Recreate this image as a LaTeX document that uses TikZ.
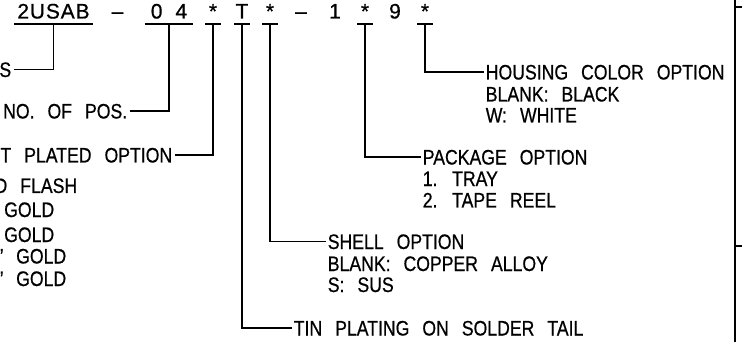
\documentclass[tikz,border=0pt]{standalone}
\usepackage{fontspec}
\setmainfont{Liberation Sans}[FakeStretch=0.84, FakeBold=0.6]
\newfontfamily\codefont{Liberation Sans}[LetterSpace=4, FakeBold=0.6]
\newcommand\lblfont{\fontsize{21}{25}\selectfont\spaceskip 13pt\relax}
\newcommand\pnfont{\codefont\fontsize{21}{25}\selectfont\spaceskip 13pt\relax}
\tikzset{
  code/.style={font=\pnfont, inner sep=0pt, text height=18pt, text depth=5pt, anchor=base},
  mark box/.style={code, minimum width=14pt},
  lbl/.style={inner sep=1.5pt, text height=15pt, text depth=0pt},
}
\begin{document}
\begin{tikzpicture}[x=1pt, y=-1pt, line width=1.6pt, font=\lblfont]
\useasboundingbox (0,0) rectangle (742,342);

% part number
\node[code, minimum width=77pt] (c2usab) at (53.5,18.5) {2USAB};
\node[code] (cdasha) at (117.5,18.5) {–};
\node[code, minimum width=47pt] (c04) at (169,18.5) {0 4};
\node[mark box] (cplat) at (213,18.5) {*};
\node[mark box] (ctin) at (242,18.5) {T};
\node[mark box] (cshell) at (270,18.5) {*};
\node[code] (cdashb) at (301,18.5) {–};
\node[code] (cone) at (335,18.5) {1};
\node[mark box] (cpack) at (365,18.5) {*};
\node[code] (cnine) at (395,18.5) {9};
\node[mark box] (chous) at (425,18.5) {*};

\foreach \n in {c2usab,c04,cplat,ctin,cshell,cpack,chous}
  \draw (\n.south west) -- (\n.south east);

% left labels (cut by the page edge)
\node[lbl, anchor=east] (lser) at (13.5,69.5) {S};
\node[lbl, anchor=east] (lpos) at (129.5,111) {NO. OF POS.};
\node[lbl, anchor=east] (lplat) at (174.5,155) {T PLATED OPTION};
\node[lbl, anchor=east] (lplatb) at (79.5,185.5) {D FLASH};
\node[lbl, anchor=east] (lplatc) at (56.5,209.5) {GOLD};
\node[lbl, anchor=east] (lplatd) at (56.5,234.5) {GOLD};
\node[lbl, anchor=east] (lplate) at (68.5,256) {” GOLD};
\node[lbl, anchor=east] (lplatf) at (68.5,278.5) {” GOLD};

% right labels
\node[lbl, anchor=west] (lhous) at (483.5,72) {HOUSING COLOR OPTION};
\node[lbl, anchor=west] (lhousb) at (483.5,94) {BLANK: BLACK};
\node[lbl, anchor=west] (lhousc) at (483.5,115) {W: WHITE};

\node[lbl, anchor=west] (lpack) at (420.5,157) {PACKAGE OPTION};
\node[lbl, anchor=west] (lpackb) at (420.5,178.5) {1. TRAY};
\node[lbl, anchor=west] (lpackc) at (420.5,200) {2. TAPE REEL};

\node[lbl, anchor=west] (lshell) at (325.5,241.5) {SHELL OPTION};
\node[lbl, anchor=west] (lshellb) at (325.5,263.5) {BLANK: COPPER ALLOY};
\node[lbl, anchor=west] (lshellc) at (325.5,284.5) {S: SUS};

\node[lbl, anchor=west] (ltin) at (291.5,328) {TIN PLATING ON SOLDER TAIL};

% leaders
\draw (c2usab.south) |- (lser.east);
\draw (c04.south) |- (lpos.east);
\draw (cplat.south) |- (lplat.east);
\draw (ctin.south) |- (ltin.west);
\draw (cshell.south) |- (lshell.west);
\draw (cpack.south) |- (lpack.west);
\draw (chous.south) |- (lhous.west);

% frame edge
\draw (735,0) -- (735,342);
\draw (735,7) -- (742,7);
\draw (735,246) -- (742,246);
\end{tikzpicture}
\end{document}
